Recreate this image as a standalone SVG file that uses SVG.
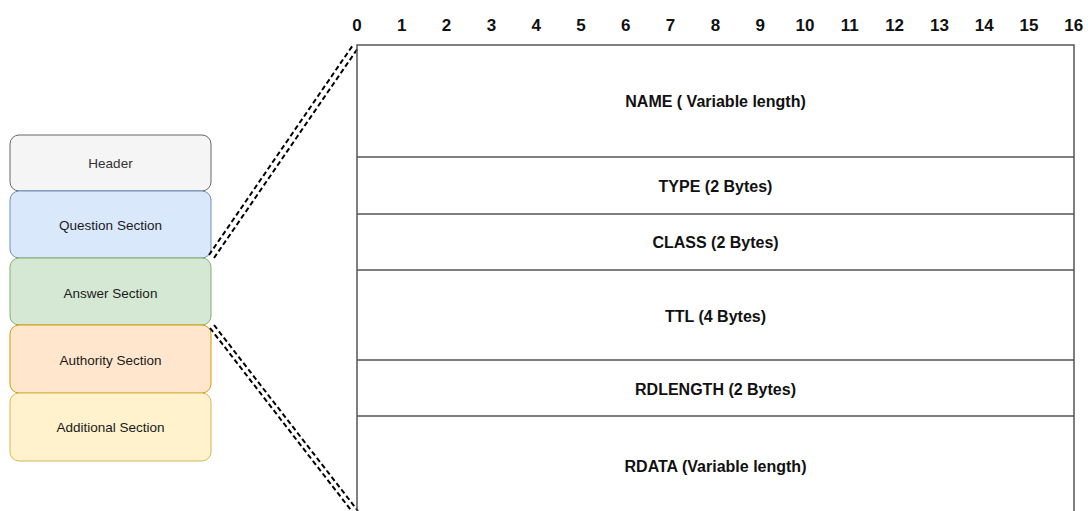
<svg xmlns="http://www.w3.org/2000/svg" width="1088" height="511" viewBox="0 0 1088 511">
<style>
.box{stroke-width:1;}
.lbl{font-family:"Liberation Sans",Arial,sans-serif;font-size:13.5px;text-anchor:middle;dominant-baseline:central;fill:#1a1a1a;}
.num{font-family:"Liberation Sans",Arial,sans-serif;font-size:17px;font-weight:bold;text-anchor:middle;fill:#111;}
.fld{font-family:"Liberation Sans",Arial,sans-serif;font-size:16px;font-weight:bold;text-anchor:middle;dominant-baseline:central;fill:#111;}
.tl{stroke:#555;stroke-width:1.5;fill:none;}
.dash{stroke:#000;stroke-width:2;stroke-dasharray:5 3;fill:none;}
</style>
<rect width="1088" height="511" fill="#ffffff"/>
<g id="header"><rect class="box" x="10" y="135" width="201" height="56" rx="9" fill="#f5f5f5" stroke="#666666"/><text class="lbl" x="110.5" y="163" style="fill:#333333">Header</text></g>
<g id="question"><rect class="box" x="10" y="191" width="201" height="67" rx="9" fill="#dae8fc" stroke="#6c8ebf"/><text class="lbl" x="110.5" y="225">Question Section</text></g>
<g id="answer"><rect class="box" x="10" y="258" width="201" height="67" rx="9" fill="#d5e8d4" stroke="#82b366"/><text class="lbl" x="110.5" y="293">Answer Section</text></g>
<g id="authority"><rect class="box" x="10" y="325" width="201" height="68" rx="9" fill="#ffe6cc" stroke="#d79b00"/><text class="lbl" x="110.5" y="360">Authority Section</text></g>
<g id="additional"><rect class="box" x="10" y="393" width="201" height="68" rx="9" fill="#fff2cc" stroke="#d6b656"/><text class="lbl" x="110.5" y="427">Additional Section</text></g>
<g id="connectors">
<line class="dash" x1="209" y1="255" x2="353" y2="45"/>
<line class="dash" x1="214" y1="258" x2="358" y2="48"/>
<line class="dash" x1="214" y1="325" x2="358" y2="511"/>
<line class="dash" x1="210" y1="328" x2="354" y2="514"/>
</g>
<g id="ruler">
<text class="num" x="357" y="31">0</text>
<text class="num" x="401.8" y="31">1</text>
<text class="num" x="446.6" y="31">2</text>
<text class="num" x="491.4" y="31">3</text>
<text class="num" x="536.2" y="31">4</text>
<text class="num" x="581" y="31">5</text>
<text class="num" x="625.8" y="31">6</text>
<text class="num" x="670.6" y="31">7</text>
<text class="num" x="715.4" y="31">8</text>
<text class="num" x="760.2" y="31">9</text>
<text class="num" x="805" y="31">10</text>
<text class="num" x="849.8" y="31">11</text>
<text class="num" x="894.6" y="31">12</text>
<text class="num" x="939.4" y="31">13</text>
<text class="num" x="984.2" y="31">14</text>
<text class="num" x="1029" y="31">15</text>
<text class="num" x="1073.8" y="31">16</text>
</g>
<g id="table">
<path class="tl" d="M357,520 V45 H1074 V520"/>
<line class="tl" x1="357" y1="157" x2="1074" y2="157"/>
<line class="tl" x1="357" y1="214" x2="1074" y2="214"/>
<line class="tl" x1="357" y1="270" x2="1074" y2="270"/>
<line class="tl" x1="357" y1="360" x2="1074" y2="360"/>
<line class="tl" x1="357" y1="416" x2="1074" y2="416"/>
</g>
<g id="name"><text class="fld" x="715.5" y="101">NAME ( Variable length)</text></g>
<g id="type"><text class="fld" x="715.5" y="186">TYPE (2 Bytes)</text></g>
<g id="class"><text class="fld" x="715.5" y="242">CLASS (2 Bytes)</text></g>
<g id="ttl"><text class="fld" x="715.5" y="316">TTL (4 Bytes)</text></g>
<g id="rdlength"><text class="fld" x="715.5" y="389">RDLENGTH (2 Bytes)</text></g>
<g id="rdata"><text class="fld" x="715.5" y="466">RDATA (Variable length)</text></g>
</svg>
